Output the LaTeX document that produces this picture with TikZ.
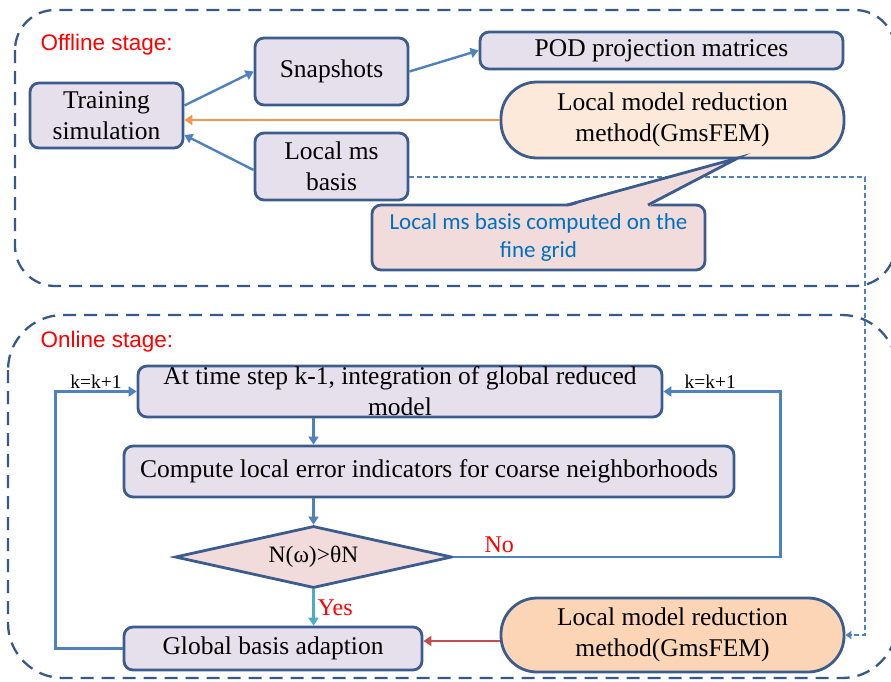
\documentclass[tikz,border=0pt]{standalone}
\usepackage{fontspec}
\setmainfont{Liberation Serif}
\setsansfont{Liberation Sans}
\newfontfamily\calloutfont{Carlito}
\usetikzlibrary{arrows.meta,shapes.geometric}
\definecolor{boxfill}{HTML}{E5E0EC}
\definecolor{boxline}{HTML}{3B5C8C}
\definecolor{stageline}{HTML}{35598A}
\definecolor{arrowblue}{HTML}{4F81BD}
\definecolor{arroworange}{HTML}{F79646}
\definecolor{arrowred}{HTML}{C0504D}
\definecolor{arrowcyan}{HTML}{4BACC6}
\definecolor{lmrlight}{HTML}{FDE9D9}
\definecolor{lmrdark}{HTML}{FBD5B5}
\definecolor{notefill}{HTML}{F2DCDB}
\definecolor{notetext}{HTML}{0070C0}

\tikzset{
  procbox/.style={draw=boxline, line width=2.8pt, fill=boxfill, rounded corners=9pt,
    align=center, inner sep=0pt, font=\fontsize{25.5}{31}\selectfont},
  pillbox/.style={procbox, fill=lmrlight, rounded corners=36pt},
  decision/.style={draw=boxline, line width=2.8pt, fill=notefill, diamond, aspect=4.47,
    inner sep=0pt, font=\fontsize{23.5}{28}\selectfont},
  notebox/.style={procbox, fill=notefill, font=\calloutfont\fontsize{23}{28}\selectfont,
    text=notetext},
  stagebox/.style={draw=stageline, line width=2.3pt, dash pattern=on 13pt off 8pt},
  stagelabel/.style={anchor=west, text=red, font=\sffamily\fontsize{22.5}{27}\selectfont},
  flow/.style={draw=arrowblue, line width=2.4pt, -{Triangle[width=10pt,length=8pt]}},
  smalllabel/.style={font=\fontsize{19.5}{24}\selectfont, inner sep=2pt},
  answer/.style={text=red, font=\fontsize{24}{28}\selectfont, inner sep=3pt},
}

\begin{document}
\begin{tikzpicture}[x=1pt,y=-1pt]
\useasboundingbox (0,0) rectangle (891,681);
% the two stages
\draw[stagebox, rounded corners=40pt] (15,10) rectangle (895,286);
\draw[stagebox, rounded corners=55pt] (8,315) rectangle (897,678);
\node[stagelabel] (offl) at (37,45) {Offline stage:};
\node[stagelabel] (onl) at (37,342) {Online stage:};

% offline
\node[procbox, minimum width=153pt, minimum height=65pt] (train) at (106.5,115.5) {Training\\simulation};
\node[procbox, minimum width=153pt, minimum height=67pt] (snap) at (331.5,71.5) {Snapshots};
\node[procbox, minimum width=153pt, minimum height=67pt] (lms) at (331.5,166.5) {Local ms\\basis};
\node[procbox, minimum width=363pt, minimum height=37pt] (pod) at (661.5,50.5) {POD projection matrices};
\node[pillbox, minimum width=343pt, minimum height=76pt] (lmr) at (672.5,120) {Local model reduction\\method(GmsFEM)};

% online
\node[procbox, minimum width=524pt, minimum height=51pt] (step) at (400,391.5) {At time step k-1, integration of global reduced\\model};
\node[procbox, minimum width=610pt, minimum height=51pt] (indic) at (429,471.5) {Compute local error indicators for coarse neighborhoods};
\node[decision, minimum width=277pt, minimum height=62pt] (test) at (313.5,557) {N(ω)>θN};
\node[procbox, minimum width=298pt, minimum height=43pt] (adapt) at (273,648.5) {Global basis adaption};
\node[pillbox, fill=lmrdark, minimum width=343pt, minimum height=74pt] (lmr2) at (672.5,635) {Local model reduction\\method(GmsFEM)};

% connectors
\draw[flow] ([yshift=10pt]train.east) -- (snap.west);
\draw[flow] (snap.east) -- (pod.west);
\draw[flow] ([yshift=-3.5pt]lms.west) -- ([yshift=-19.5pt]train.east);
\draw[flow, draw=arroworange] (lmr.west) -- (lmr.west -| train.east);
\draw[flow, line width=2pt, dash pattern=on 5pt off 3pt, -{Triangle[width=8pt,length=6pt]}]
  ([yshift=-10.5pt]lms.east) -- ++(456,0) |- (lmr2.east);

% callout
\node[notebox, minimum width=333pt, minimum height=65pt] (note) at (538.5,237.5) {Local ms basis computed on the\\fine grid};
\fill[notefill] (567,207) -- (738,158) -- (648,207) -- cycle;
\draw[draw=boxline, line width=2.8pt, line join=miter] (567,205) -- (738,158) -- (648,205);

\draw[flow] (test |- step.south) -- (test |- indic.north);
\draw[flow] (test |- indic.south) -- (test.north);
\draw[flow, draw=arrowcyan] (test.south) -- node[answer, right] {Yes} (test |- adapt.north);
\draw[flow] (test.east) -- node[answer, pos=0.14, above] {No} ++(327,0)
  |- node[smalllabel, pos=0.8, above] {k=k+1} (step.east);
\draw[flow] (adapt.west) -- ++(-67,0)
  |- node[smalllabel, pos=0.75, above] {k=k+1} (step.west);
\draw[flow, draw=arrowred] ([yshift=-6pt]lmr2.west) -- ([yshift=-6pt]lmr2.west -| adapt.east);
\end{tikzpicture}
\end{document}
